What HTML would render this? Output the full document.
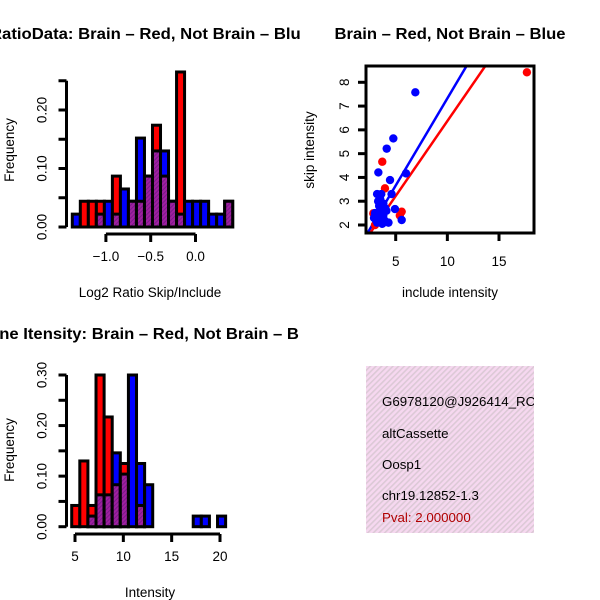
<!DOCTYPE html>
<html><head><meta charset="utf-8"><style>
html,body{margin:0;padding:0;background:#fff;}
svg{display:block;font-family:"Liberation Sans",sans-serif;}
</style></head><body>
<svg id="chart" width="600" height="600" viewBox="0 0 600 600">
<defs>
<pattern id="hatch" width="4" height="4" patternUnits="userSpaceOnUse" patternTransform="rotate(45)">
<rect width="4" height="4" fill="#f6d8f0"/><rect width="1.6" height="4" fill="#dcc9d6"/>
</pattern>
<pattern id="phatch" width="3" height="3" patternUnits="userSpaceOnUse" patternTransform="rotate(45)">
<rect width="3" height="3" fill="#a020a0"/><rect width="1" height="3" fill="#7a1a8a"/>
</pattern>
<clipPath id="cl1"><rect x="0" y="0" width="300" height="300"/></clipPath>
<clipPath id="cl3"><rect x="0" y="300" width="300" height="300"/></clipPath>
<clipPath id="cl4"><rect x="366" y="366" width="168" height="167"/></clipPath>
<clipPath id="cl2"><rect x="366" y="66" width="168" height="167"/></clipPath>
</defs>
<g id="p1" clip-path="url(#cl1)"></g>
<g id="p2"></g>
<g id="p3" clip-path="url(#cl3)"></g>
<g id="p4">
<rect x="366" y="366" width="168" height="167" fill="url(#hatch)"/>
<g clip-path="url(#cl4)" font-size="13.3">
<text x="382" y="406">G6978120@J926414_RC</text>
<text x="382" y="438">altCassette</text>
<text x="382" y="469">Oosp1</text>
<text x="382" y="500">chr19.12852-1.3</text>
<text x="382" y="522" fill="#b00000">Pval: 2.000000</text>
</g>
</g>
</svg>
<script>
// Panel 1 data: ratio histogram
const ratioBinStart = -1.375;
const ratioBinWidth = 0.0895;
const ratioRed  = [0,0.044,0.044,0.044,0,0.087,0,0.044,0.044,0.087,0.174,0.087,0.044,0.265,0,0,0,0,0,0.044];
const ratioBlue = [0.022,0,0,0.022,0.044,0.022,0.065,0.044,0.152,0.087,0.13,0.13,0.044,0.022,0.044,0.044,0.044,0.022,0.022,0.044];
const ratioXTicks = [-1.0,-0.5,0.0];
const ratioXTickLabels = ["\u22121.0","\u22120.5","0.0"];
const ratioYTicks = [0,0.05,0.10,0.15,0.20,0.25];
const ratioYTickLabels = ["0.00","","0.10","","0.20",""];
// Panel 2 data: scatter
const blueX = [6.9,4.77,4.13,3.32,4.45,6.0,5.58,4.93,3.2,3.5,3.8,4.1,3.4,3.0,3.6,3.9,4.3,3.3,3.7,3.1,4.6,3.5,2.9,3.4,4.0,3.6,3.2,3.8];
const blueY = [7.58,5.64,5.21,4.21,3.89,4.17,2.21,2.67,3.3,3.1,2.9,2.6,2.8,2.5,2.3,2.2,2.1,3.0,2.05,2.2,3.3,2.6,2.3,2.4,2.7,3.3,2.1,2.4];
const redX = [17.7,3.7,3.96,5.58,2.83,3.0,5.4];
const redY = [8.42,4.66,3.54,2.56,2.49,2.0,2.4];
const blueFit = [0.733,-0.006];
const redFit = [0.63,0.07];
const scatXTicks = [5,10,15];
const scatYTicks = [2,3,4,5,6,7,8];
// Panel 3 data: intensity histogram
const intBinStart = 4.66;
const intBinWidth = 0.838;
const intRed  = [0.042,0.13,0.042,0.30,0.217,0.083,0.125,0,0.042,0,0,0,0,0,0,0,0,0,0,0];
const intBlue = [0,0,0.021,0.063,0.063,0.146,0.104,0.30,0.125,0.083,0,0,0,0,0,0.021,0.021,0,0.021,0];
const intXTicks = [5,10,15,20];
const intYTicks = [0,0.05,0.10,0.15,0.20,0.25,0.30];
const intYTickLabels = ["0.00","","0.10","","0.20","","0.30"];

const NS="http://www.w3.org/2000/svg";
function mk(parent,tag,attrs){const e=document.createElementNS(NS,tag);for(const k in attrs)e.setAttribute(k,attrs[k]);parent.appendChild(e);return e;}
function lin(d0,d1,r0,r1){return v=>r0+(v-d0)*(r1-r0)/(d1-d0);}

function histogram(g,o){
  const x=o.x,y=o.y;
  const t=mk(g,'text',{x:o.cx,y:o.titleY,'text-anchor':'middle','font-size':'15.5','font-weight':'bold',textLength:o.titleLen,lengthAdjust:'spacingAndGlyphs'});t.textContent=o.title;
  
  
  const n=o.red.length;
  for(let i=0;i<n;i++){
    const a=o.start+i*o.width,b=a+o.width;
    const x0=x(a),x1=x(b);
    const r=o.red[i],bl=o.blue[i],mn=Math.min(r,bl),mx=Math.max(r,bl);
    if(mx<=0)continue;
    const hi=r>=bl?'#ff0000':'#0000ff';
    const bar=mk(g,'rect',{x:x0,y:y(mx),width:x1-x0,height:y(0)-y(mx),fill:hi,stroke:'#000','stroke-width':3});
    
    
    if(mn>0){
      const ov=mk(g,'rect',{x:x0,y:y(mn),width:x1-x0,height:y(0)-y(mn),fill:'url(#phatch)',stroke:'#000','stroke-width':3});
      
      
    }
  }
  const xa=mk(g,'g',{});
  
  
  const xb=o.axisY;
  mk(xa,'line',{x1:x(o.xt[0]),x2:x(o.xt[o.xt.length-1]),y1:xb,y2:xb,stroke:'#000','stroke-width':3});
  o.xt.forEach((v,i)=>{mk(xa,'line',{x1:x(v),x2:x(v),y1:xb,y2:xb+8,stroke:'#000','stroke-width':3});
    const l=mk(xa,'text',{x:x(v),y:xb+27,'text-anchor':'middle','font-size':'13.5'});l.textContent=o.xl[i];});
  const xt=mk(g,'text',{x:o.cx,y:xb+63,'text-anchor':'middle','font-size':'13.5'});xt.textContent=o.xlab;
  
  
  const ya=mk(g,'g',{});
  
  
  const ax=o.axisX;
  mk(ya,'line',{x1:ax,x2:ax,y1:y(o.yt[0]),y2:y(o.yt[o.yt.length-1]),stroke:'#000','stroke-width':3});
  o.yt.forEach((v,i)=>{mk(ya,'line',{x1:ax,x2:ax-8,y1:y(v),y2:y(v),stroke:'#000','stroke-width':3});
    if(o.yl[i]){const l=mk(ya,'text',{x:0,y:0,'text-anchor':'middle','font-size':'13.5',transform:`translate(${ax-20},${y(v)}) rotate(-90)`});l.textContent=o.yl[i];}});
  const yt=mk(g,'text',{x:0,y:0,'text-anchor':'middle','font-size':'13.5',transform:`translate(14,${o.ymid}) rotate(-90)`});yt.textContent='Frequency';
  
  
}

histogram(document.getElementById('p1'),{
  x:lin(-0.5,0,150.7,195.5),y:lin(0,0.1,227,168.5),
  start:ratioBinStart,width:ratioBinWidth,red:ratioRed,blue:ratioBlue,
  xt:ratioXTicks,xl:ratioXTickLabels,yt:ratioYTicks,yl:ratioYTickLabels,
  axisY:234,axisX:66.5,cx:150,titleY:39,ymid:150,titleLen:320,
  title:'RatioData: Brain \u2013 Red, Not Brain \u2013 Blue',xlab:'Log2 Ratio Skip/Include'});

histogram(document.getElementById('p3'),{
  x:lin(5,20,75,220),y:lin(0,0.3,526.7,375),
  start:intBinStart,width:intBinWidth,red:intRed,blue:intBlue,
  xt:intXTicks,xl:intXTicks.map(String),yt:intYTicks,yl:intYTickLabels,
  axisY:534,axisX:66.5,cx:150,titleY:339,ymid:450,titleLen:346,
  title:'Gene Itensity: Brain \u2013 Red, Not Brain \u2013 Blue',xlab:'Intensity'});

(function(){
  const g=document.getElementById('p2');
  const x=lin(5,15,395.7,499),y=lin(2,8,225,82.3);
  const t=mk(g,'text',{x:450,y:39,'text-anchor':'middle','font-size':'15.5','font-weight':'bold',textLength:231,lengthAdjust:'spacingAndGlyphs'});t.textContent='Brain \u2013 Red, Not Brain \u2013 Blue';
  
  
  const pts=mk(g,'g',{'clip-path':'url(#cl2)'});
  const x0=2.1,x1=18.5;
  const bl=mk(pts,'line',{x1:x(x0),y1:y(blueFit[0]*x0+blueFit[1]),x2:x(x1),y2:y(blueFit[0]*x1+blueFit[1]),stroke:'#0000ff','stroke-width':2.5});
  
  
  const rl=mk(pts,'line',{x1:x(x0),y1:y(redFit[0]*x0+redFit[1]),x2:x(x1),y2:y(redFit[0]*x1+redFit[1]),stroke:'#ff0000','stroke-width':2.5});
  
  
  redX.forEach((v,i)=>{const c=mk(pts,'circle',{cx:x(v),cy:y(redY[i]),r:4.2,fill:'#ff0000'});
    
    });
  blueX.forEach((v,i)=>{const c=mk(pts,'circle',{cx:x(v),cy:y(blueY[i]),r:4.2,fill:'#0000ff'});
    
    });
  const fr=mk(g,'rect',{x:366,y:66,width:168,height:167,fill:'none',stroke:'#000','stroke-width':3});
  
  
  scatXTicks.forEach(v=>{mk(g,'line',{x1:x(v),x2:x(v),y1:233,y2:241,stroke:'#000','stroke-width':3});
    const l=mk(g,'text',{x:x(v),y:266,'text-anchor':'middle','font-size':'13.5'});l.textContent=v;});
  scatYTicks.forEach(v=>{mk(g,'line',{x1:366,x2:358,y1:y(v),y2:y(v),stroke:'#000','stroke-width':3});
    const l=mk(g,'text',{x:0,y:0,'text-anchor':'middle','font-size':'13.5',transform:`translate(349,${y(v)}) rotate(-90)`});l.textContent=v;});
  const xt=mk(g,'text',{x:450,y:297,'text-anchor':'middle','font-size':'13.5'});xt.textContent='include intensity';
  
  
  const yt=mk(g,'text',{x:0,y:0,'text-anchor':'middle','font-size':'13.5',transform:'translate(314,150) rotate(-90)'});yt.textContent='skip intensity';
  
  
})();
</script>
</body></html>
